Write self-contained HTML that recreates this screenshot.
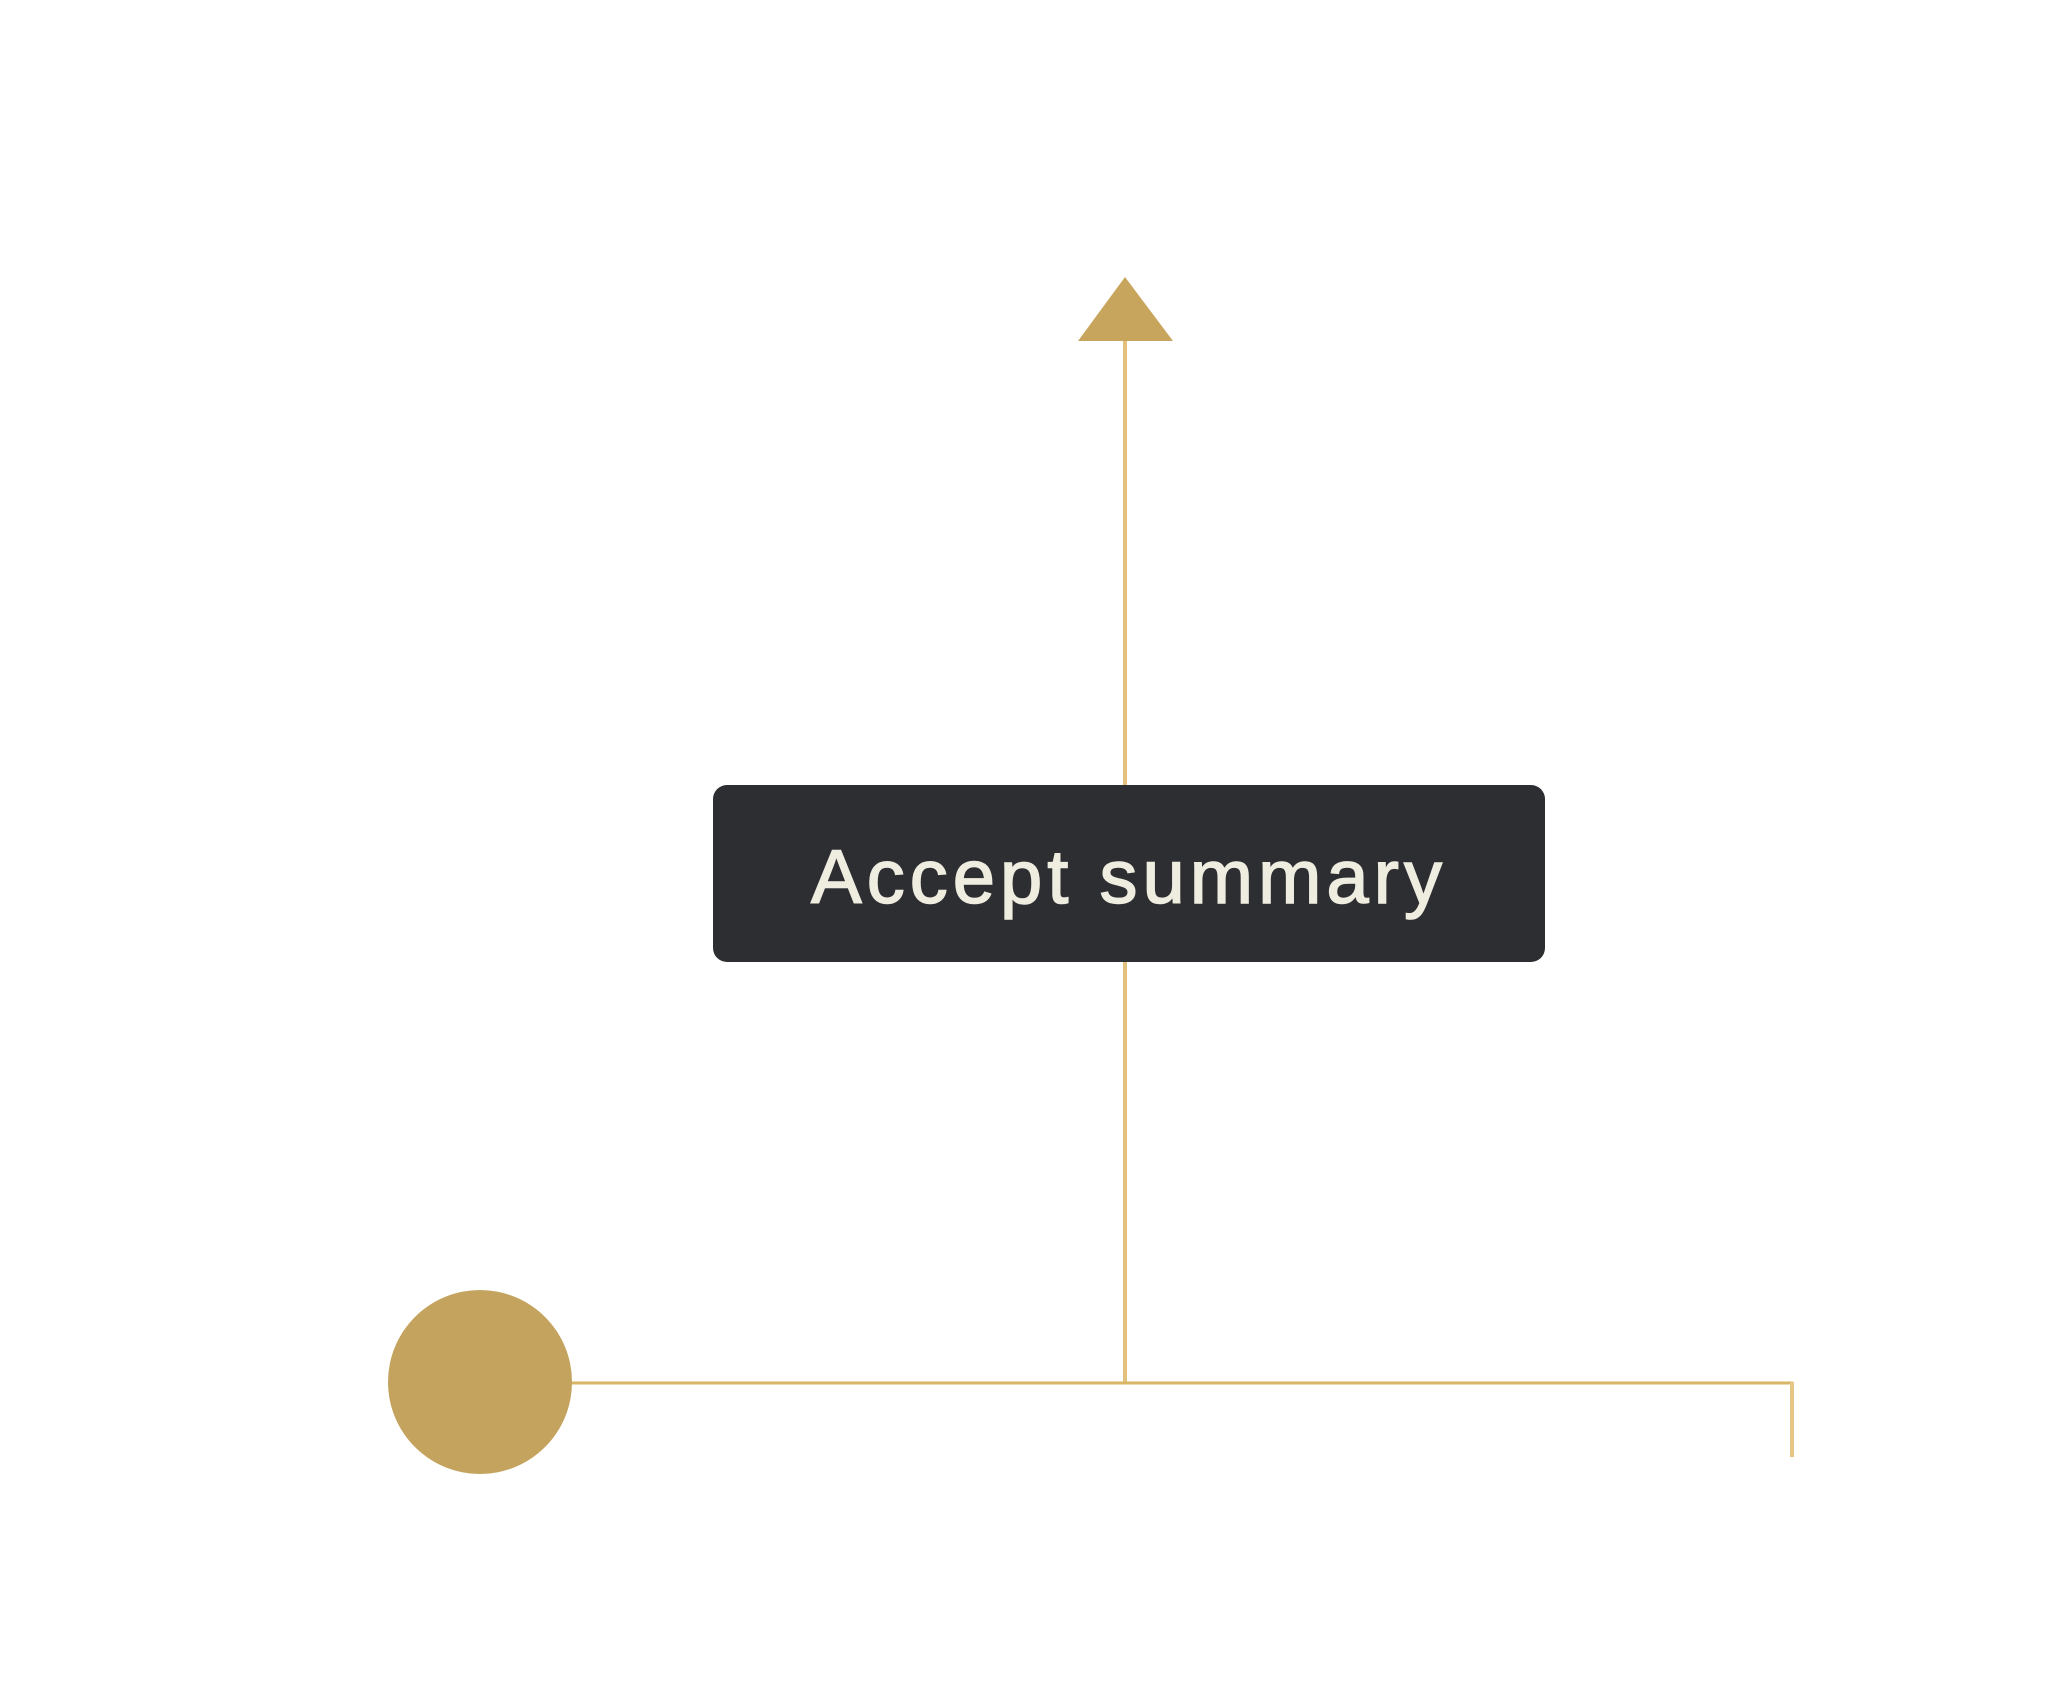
<!DOCTYPE html>
<html><head><meta charset="utf-8"><style>
html,body{margin:0;padding:0;background:#fff;width:2048px;height:1704px;overflow:hidden}
</style></head><body>
<svg width="2048" height="1704" viewBox="0 0 2048 1704" xmlns="http://www.w3.org/2000/svg" style="position:absolute;left:0;top:0">
<line x1="1125" y1="338" x2="1125" y2="790" stroke="#e3c07e" stroke-width="4"/>
<line x1="1125" y1="960" x2="1125" y2="1384" stroke="#e3c07e" stroke-width="4"/>
<polygon points="1125,277 1078,341 1173,341" fill="#c7a55c"/>
<line x1="570" y1="1383" x2="1793" y2="1383" stroke="#d9b566" stroke-width="3"/>
<line x1="1792" y1="1382" x2="1792" y2="1457" stroke="#e6c685" stroke-width="4"/>
<circle cx="480" cy="1382" r="92" fill="#c4a35e"/>
<rect x="713" y="785" width="832" height="177" rx="14" fill="#2c2e31"/>
<text x="1129" y="903" text-anchor="middle" font-family="Liberation Sans, sans-serif" font-size="76" fill="#efece0" stroke="#efece0" stroke-width="1.5" letter-spacing="5">Accept summary</text>
</svg>
</body></html>
